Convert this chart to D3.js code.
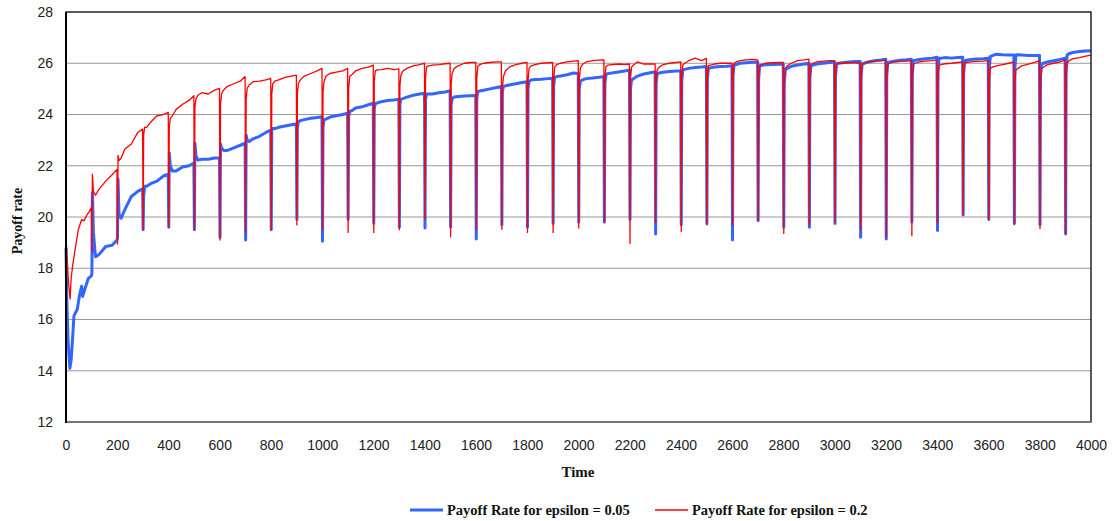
<!DOCTYPE html>
<html lang="en">
<head>
    <meta charset="UTF-8">
    <script src="https://d3js.org/d3.v7.min.js"></script>
    <title>Payoff rate</title>
    <style>
        body { margin: 0; background: #fff; }
        svg { font-family: Lato, "Open Sans", sans-serif; }
        .tick-label { font-size: 14px; fill: #222; }
        .title { font-family: "Liberation Serif", "Times New Roman", serif; font-weight: bold; font-size: 14.5px; fill: #111; }
        .grid line { stroke: #999; stroke-width: 1; }
        .line { fill: none; stroke-linejoin: round; }
    </style>
</head>
<body>
<div id="chart"></div>
<script>
    const width = 1112;
    const height = 521;
    const margin = { top: 12, right: 21, bottom: 99, left: 66 };

    // axes
    const xTicks = [0, 200, 400, 600, 800, 1000, 1200, 1400, 1600, 1800, 2000,
                    2200, 2400, 2600, 2800, 3000, 3200, 3400, 3600, 3800, 4000];
    const yTicks = [12, 14, 16, 18, 20, 22, 24, 26, 28];

    const seriesNames = ["Payoff Rate for epsilon = 0.05", "Payoff Rate for epsilon = 0.2"];
    const seriesColors = ["#3366ff", "#ff0000"];

    // every 100 steps the payoff collapses then recovers
    const segStarts = [100, 200, 300, 400, 500, 600, 700, 800, 900, 1000, 1100, 1200, 1300,
                       1400, 1500, 1600, 1700, 1800, 1900, 2000, 2100, 2200, 2300, 2400, 2500,
                       2600, 2700, 2800, 2900, 3000, 3100, 3200, 3300, 3400, 3500, 3600, 3700,
                       3800, 3900];
    // time offsets inside a segment where values were read
    const segOffsets = [1, 3, 7, 15, 30, 55, 80, 99];

    // epsilon = 0.05, first 100 steps
    const blueHead = [[0, 18.8], [3, 16.8], [8, 15.2], [15, 14.1], [20, 14.4], [26, 15.3], [31, 16.14],
                      [44, 16.4], [52, 16.9], [61, 17.3], [65, 16.9], [74, 17.2], [87, 17.6], [99, 17.7]];
    const blueSegs = [
        [17.8, 20.95, 19.4, 18.45, 18.55, 18.85, 18.9, 19.1],
        [19.2, 21.47, 20.1, 19.95, 20.3, 20.8, 21.0, 21.1],
        [19.5, 20.8, 21.2, 21.2, 21.3, 21.4, 21.6, 21.67],
        [19.6, 22.5, 22.0, 21.8, 21.8, 21.95, 22.0, 22.1],
        [19.5, 22.88, 22.4, 22.22, 22.25, 22.25, 22.3, 22.3],
        [19.2, 22.85, 22.7, 22.6, 22.6, 22.7, 22.8, 22.88],
        [19.1, 23.2, 23.0, 22.95, 23.05, 23.15, 23.3, 23.39],
        [19.5, 23.4, 23.45, 23.45, 23.5, 23.55, 23.6, 23.63],
        [19.9, 23.5, 23.72, 23.76, 23.8, 23.85, 23.88, 23.91],
        [19.05, 23.5, 23.8, 23.82, 23.9, 23.95, 24.0, 24.05],
        [19.9, 23.9, 24.11, 24.15, 24.25, 24.3, 24.38, 24.44],
        [19.75, 24.2, 24.44, 24.45, 24.5, 24.55, 24.57, 24.6],
        [19.6, 24.4, 24.6, 24.62, 24.68, 24.75, 24.8, 24.83],
        [19.57, 24.6, 24.8, 24.8, 24.8, 24.85, 24.88, 24.93],
        [19.6, 24.4, 24.62, 24.68, 24.7, 24.72, 24.73, 24.74],
        [19.14, 24.6, 24.9, 24.92, 24.95, 25.0, 25.05, 25.09],
        [19.7, 24.9, 25.09, 25.12, 25.15, 25.2, 25.25, 25.28],
        [19.6, 25.0, 25.3, 25.35, 25.37, 25.38, 25.4, 25.41],
        [19.75, 25.1, 25.45, 25.48, 25.5, 25.55, 25.62, 25.6],
        [19.8, 25.0, 25.3, 25.35, 25.4, 25.42, 25.45, 25.48],
        [19.8, 25.2, 25.55, 25.6, 25.62, 25.66, 25.7, 25.74],
        [19.9, 25.0, 25.35, 25.4, 25.5, 25.58, 25.63, 25.67],
        [19.34, 25.2, 25.6, 25.62, 25.65, 25.68, 25.7, 25.7],
        [19.7, 25.3, 25.74, 25.76, 25.8, 25.83, 25.85, 25.87],
        [19.75, 25.4, 25.8, 25.82, 25.85, 25.87, 25.88, 25.9],
        [19.1, 25.5, 25.93, 25.95, 26.0, 26.02, 26.04, 26.05],
        [19.85, 25.4, 25.9, 25.92, 25.94, 25.95, 25.96, 25.97],
        [19.6, 25.2, 25.74, 25.8, 25.88, 25.93, 25.97, 26.0],
        [19.6, 25.4, 25.9, 25.93, 25.97, 26.0, 26.03, 26.05],
        [19.75, 25.5, 25.97, 26.0, 26.02, 26.05, 26.07, 26.07],
        [19.21, 25.5, 25.97, 26.0, 26.05, 26.1, 26.13, 26.16],
        [19.14, 25.5, 26.03, 26.05, 26.08, 26.12, 26.14, 26.16],
        [19.8, 25.6, 26.1, 26.12, 26.15, 26.18, 26.2, 26.23],
        [19.47, 25.7, 26.2, 26.2, 26.22, 26.2, 26.22, 26.23],
        [20.08, 25.6, 26.1, 26.12, 26.15, 26.17, 26.18, 26.2],
        [19.9, 25.8, 26.26, 26.3, 26.35, 26.33, 26.32, 26.32],
        [19.75, 25.8, 26.32, 26.33, 26.32, 26.3, 26.3, 26.3],
        [19.7, 25.5, 25.97, 26.0, 26.05, 26.1, 26.15, 26.2],
        [19.34, 25.8, 26.32, 26.38, 26.42, 26.46, 26.48, 26.49]
    ];

    // epsilon = 0.2, first 100 steps
    const redHead = [[0, 19.26], [5, 18.3], [10, 17.4], [16, 16.8], [20, 17.6], [26, 18.1], [35, 18.7],
                     [48, 19.5], [61, 19.9], [70, 19.85], [80, 20.05], [90, 20.2], [99, 20.37]];
    const redSegs = [
        [18.65, 21.67, 21.0, 20.85, 21.1, 21.4, 21.65, 21.86],
        [18.94, 22.4, 22.2, 22.3, 22.65, 22.85, 23.3, 23.43],
        [19.52, 23.2, 23.5, 23.5, 23.7, 23.95, 24.0, 24.08],
        [19.6, 23.5, 23.85, 23.95, 24.2, 24.4, 24.55, 24.73],
        [19.49, 24.3, 24.6, 24.75, 24.85, 24.8, 24.95, 25.02],
        [19.1, 24.4, 24.8, 24.96, 25.1, 25.2, 25.3, 25.48],
        [19.4, 24.6, 25.02, 25.15, 25.28, 25.3, 25.35, 25.41],
        [19.49, 24.8, 25.2, 25.3, 25.35, 25.45, 25.5, 25.54],
        [19.69, 24.8, 25.22, 25.35, 25.5, 25.6, 25.7, 25.8],
        [19.49, 24.9, 25.28, 25.5, 25.6, 25.65, 25.7, 25.8],
        [19.4, 25.0, 25.48, 25.55, 25.7, 25.8, 25.85, 25.93],
        [19.4, 25.3, 25.7, 25.74, 25.75, 25.8, 25.75, 25.78],
        [19.5, 25.1, 25.54, 25.7, 25.8, 25.9, 25.95, 26.0],
        [19.9, 25.4, 25.85, 25.9, 25.93, 25.95, 25.98, 26.0],
        [19.23, 25.2, 25.6, 25.8, 25.9, 26.0, 26.03, 26.03],
        [19.5, 25.4, 25.87, 25.95, 26.0, 26.03, 26.05, 26.05],
        [19.52, 25.0, 25.48, 25.7, 25.85, 25.95, 26.0, 26.03],
        [19.4, 25.3, 25.8, 25.9, 25.95, 26.0, 26.02, 26.03],
        [19.4, 25.3, 25.85, 25.95, 26.0, 26.05, 26.08, 26.1],
        [19.57, 25.3, 25.8, 25.95, 26.05, 26.1, 26.12, 26.13],
        [19.8, 25.4, 25.87, 25.93, 25.95, 25.97, 25.96, 25.97],
        [18.97, 25.4, 25.85, 25.93, 26.05, 25.97, 25.97, 25.97],
        [19.78, 25.3, 25.74, 25.85, 25.95, 26.0, 26.03, 26.05],
        [19.43, 25.4, 25.93, 26.0, 26.1, 26.2, 26.1, 26.19],
        [19.69, 25.4, 25.9, 25.93, 25.97, 26.0, 26.0, 26.0],
        [19.7, 25.5, 26.0, 26.05, 26.1, 26.13, 26.15, 26.13],
        [19.88, 25.4, 25.9, 25.95, 26.0, 26.02, 26.03, 26.03],
        [19.36, 25.3, 25.8, 25.9, 26.0, 26.1, 26.13, 26.16],
        [19.7, 25.5, 25.97, 26.0, 26.05, 26.08, 26.1, 26.1],
        [19.78, 25.5, 25.97, 26.0, 26.0, 26.02, 26.02, 26.0],
        [19.5, 25.5, 25.97, 26.0, 26.05, 26.08, 26.1, 26.13],
        [19.23, 25.5, 25.97, 26.0, 26.05, 26.07, 26.08, 26.1],
        [19.27, 25.5, 25.97, 26.0, 26.05, 26.08, 26.1, 26.13],
        [19.78, 25.4, 25.9, 25.95, 25.98, 26.0, 26.03, 26.05],
        [20.07, 25.5, 26.0, 26.03, 26.05, 26.07, 26.08, 26.1],
        [19.9, 25.3, 25.8, 25.85, 25.9, 25.95, 26.0, 26.05],
        [19.7, 25.3, 25.74, 25.8, 25.9, 25.97, 26.03, 26.1],
        [19.55, 25.3, 25.8, 25.85, 25.95, 26.0, 26.05, 26.13],
        [19.37, 25.5, 26.0, 26.1, 26.18, 26.22, 26.28, 26.32]
    ];

    function buildSeries(head, segs) {
        const pts = head.map(([t, v]) => ({ t, v }));
        segStarts.forEach((start, i) => {
            segOffsets.forEach((o, j) => pts.push({ t: start + o, v: segs[i][j] }));
        });
        return pts;
    }

    const series = [buildSeries(blueHead, blueSegs), buildSeries(redHead, redSegs)];

    const svg = d3.select("#chart").append("svg")
        .attr("width", width)
        .attr("height", height);

    const x = d3.scaleLinear().domain([0, 4000]).range([margin.left, width - margin.right]);
    const y = d3.scaleLinear().domain([12, 28]).range([height - margin.bottom, margin.top]);

    // gridlines
    svg.append("g").attr("class", "grid")
        .selectAll("line")
        .data(yTicks.slice(1, -1))
        .join("line")
        .attr("x1", x(0)).attr("x2", x(4000))
        .attr("y1", d => y(d)).attr("y2", d => y(d));

    // y axis labels
    svg.append("g")
        .attr("transform", `translate(${margin.left},0)`)
        .call(d3.axisLeft(y).tickValues(yTicks).tickSize(0).tickPadding(13))
        .call(g => g.select(".domain").remove())
        .call(g => g.selectAll("text").attr("class", "tick-label").attr("font-family", null).attr("font-size", null));

    // x axis labels
    svg.append("g")
        .attr("transform", `translate(0,${y(12)})`)
        .call(d3.axisBottom(x).tickValues(xTicks).tickFormat(d3.format("d")).tickSize(0).tickPadding(18))
        .call(g => g.select(".domain").remove())
        .call(g => g.selectAll("text").attr("class", "tick-label").attr("font-family", null).attr("font-size", null));

    // lines
    const line = d3.line().x(d => x(d.t)).y(d => y(d.v));
    const widths = [3, 1.3];
    series.forEach((data, i) => {
        svg.append("path")
            .datum(data)
            .attr("class", "line")
            .attr("stroke", seriesColors[i])
            .attr("stroke-width", widths[i])
            .attr("d", line);
    });

    // frame
    svg.append("rect")
        .attr("x", x(0)).attr("y", y(28))
        .attr("width", x(4000) - x(0)).attr("height", y(12) - y(28))
        .attr("fill", "none").attr("stroke", "#000").attr("stroke-width", 1.3);
    svg.append("line")
        .attr("x1", x(0)).attr("x2", x(4000))
        .attr("y1", y(12)).attr("y2", y(12))
        .attr("stroke", "#777").attr("stroke-width", 2);
    svg.append("line")
        .attr("x1", x(0)).attr("x2", x(0))
        .attr("y1", y(28)).attr("y2", y(12) + 1)
        .attr("stroke", "#000").attr("stroke-width", 2);

    // axis titles
    svg.append("text")
        .attr("class", "title")
        .attr("x", 578)
        .attr("y", 477)
        .attr("text-anchor", "middle")
        .style("font-size", "15px")
        .text("Time");
    svg.append("text")
        .attr("class", "title")
        .attr("transform", `translate(22,221) rotate(-90)`)
        .attr("text-anchor", "middle")
        .style("font-size", "14px")
        .text("Payoff rate");

    // legend
    const legendX = [410, 655];
    const legend = svg.append("g").attr("transform", "translate(0,510)");
    seriesNames.forEach((name, i) => {
        legend.append("line")
            .attr("x1", legendX[i]).attr("x2", legendX[i] + 33)
            .attr("stroke", seriesColors[i])
            .attr("stroke-width", widths[i]);
        legend.append("text")
            .attr("class", "title")
            .attr("x", legendX[i] + 37)
            .attr("dy", "0.35em")
            .text(name);
    });
</script>
</body>
</html>
